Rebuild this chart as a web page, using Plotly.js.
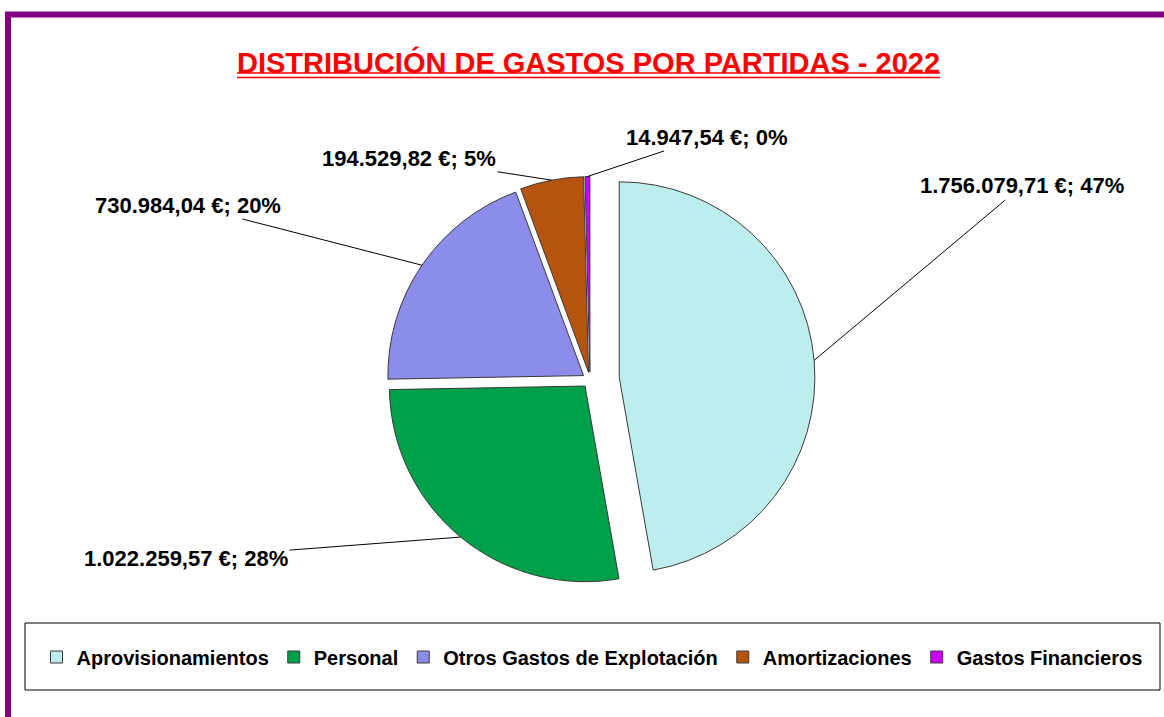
<!DOCTYPE html>
<html><head><meta charset="utf-8">
<script src="https://cdn.plot.ly/plotly-3.0.1.min.js"></script>
<style>html,body{margin:0;padding:0;background:#fff;overflow:hidden;} #chart{width:1164px;height:717px;}</style>
</head><body><div id="chart"></div>
<script>
// ---- data ----
const categories = ['Aprovisionamientos', 'Personal', 'Otros Gastos de Explotación', 'Amortizaciones', 'Gastos Financieros'];
const amounts = [1756079.71, 1022259.57, 730984.04, 194529.82, 14947.54];
const percentLabels = [47, 28, 20, 5, 0];
const chartTitle = 'DISTRIBUCIÓN DE GASTOS POR PARTIDAS - 2022';

// ---- styles / layout ----
const sliceColors = ['#BDEDED', '#00A04A', '#8C8CEB', '#B5530F', '#CC00FF'];
const pulls = [0.15, 0.04, 0.04, 0.04, 0.04];
const labelCenters = [[1022, 186], [186, 558], [188, 205], [409, 158], [706, 137]];
const W = 1164, H = 717;
const FONT = 'Liberation Sans, Arial, sans-serif';
const pieCx = 590, pieCy = 380, pieHalf = 225;

function fmtEs(v) {
  const parts = v.toFixed(2).split('.');
  return parts[0].replace(/\B(?=(\d{3})+(?!\d))/g, '.') + ',' + parts[1];
}
const px = x => x / W;
const py = y => 1 - y / H;

const pie = {
  type: 'pie',
  labels: categories,
  values: amounts,
  sort: false,
  direction: 'clockwise',
  rotation: 0,
  pull: pulls,
  textinfo: 'none',
  hoverinfo: 'label+value+percent',
  marker: {colors: sliceColors, line: {color: '#3a3a3a', width: 1}},
  domain: {x: [px(pieCx - pieHalf), px(pieCx + pieHalf)], y: [py(pieCy + pieHalf), py(pieCy - pieHalf)]}
};

// leader-line annotations, head at each slice's mid-angle edge
const total = amounts.reduce((a, b) => a + b, 0);
const maxPull = Math.max(...pulls);
const r = pieHalf / (1 + maxPull);
let cum = 0;
const annotations = amounts.map((v, i) => {
  const mid = 2 * Math.PI * (cum + v / 2) / total;
  cum += v;
  const rr = r * (1 + pulls[i]);
  const hx = pieCx + rr * Math.sin(mid);
  const hy = pieCy - rr * Math.cos(mid);
  return {
    xref: 'paper', yref: 'paper', x: px(hx), y: py(hy),
    ax: labelCenters[i][0] - hx, ay: labelCenters[i][1] - hy,
    showarrow: true, arrowhead: 0, arrowwidth: 1, arrowcolor: '#000', standoff: 0, startstandoff: 0,
    text: fmtEs(v) + ' €; ' + percentLabels[i] + '%',
    font: {family: FONT, size: 22, color: '#000', weight: 'bold'}
  };
});

const shapes = [
  {type: 'rect', xref: 'paper', yref: 'paper', x0: px(8), x1: 1.05, y0: -0.1, y1: py(14.5),
   line: {color: '#800080', width: 6}, fillcolor: 'rgba(0,0,0,0)', layer: 'below'},
  {type: 'rect', xref: 'paper', yref: 'paper', x0: px(25), x1: px(1160), y0: py(690), y1: py(623),
   line: {color: '#000', width: 1}, fillcolor: 'rgba(0,0,0,0)', layer: 'below'},
  {type: 'line', xref: 'paper', yref: 'paper', x0: px(237), x1: px(940), y0: py(73), y1: py(73),
   line: {color: '#FF0000', width: 1.5}},
  {type: 'line', xref: 'paper', yref: 'paper', x0: px(237), x1: px(940), y0: py(77.5), y1: py(77.5),
   line: {color: '#FF0000', width: 1.5}}
];

const layout = {
  width: W, height: H,
  margin: {l: 0, r: 0, t: 0, b: 0},
  paper_bgcolor: '#fff',
  title: {text: chartTitle, x: px(588.5), xanchor: 'center', xref: 'paper', y: py(63), yref: 'paper', yanchor: 'middle',
          font: {family: FONT, size: 29, color: '#FF0000', weight: 'bold'}},
  showlegend: true,
  legend: {orientation: 'h', x: px(592), xanchor: 'center', y: py(657), yanchor: 'middle',
           font: {family: FONT, size: 20, color: '#000', weight: 'bold'}, itemwidth: 30,
           bgcolor: 'rgba(0,0,0,0)', traceorder: 'normal'},
  annotations: annotations,
  shapes: shapes
};

Plotly.newPlot('chart', [pie], layout, {displayModeBar: false, staticPlot: true});
</script></body></html>
